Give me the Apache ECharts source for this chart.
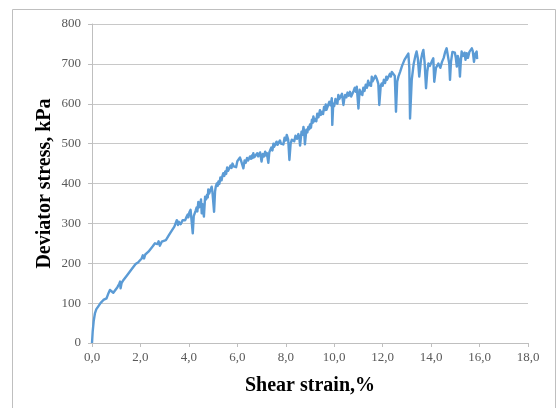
<!DOCTYPE html>
<html>
<head>
<meta charset="utf-8">
<script src="https://cdn.jsdelivr.net/npm/echarts@6/dist/echarts.min.js"></script>
<style>
html,body{margin:0;padding:0;background:#fff;}
#c{width:558px;height:408px;}
</style>
</head>
<body>
<div id="c"></div>
<script>
// [shear strain %, deviator stress kPa]
var curveLow = [
[0.00,0],[0.03,30],[0.07,55],[0.12,74],[0.18,85],[0.26,92],[0.35,100],[0.47,108],[0.55,106],[0.60,112],
[0.68,125],[0.74,133],[0.82,130],[0.88,126],[0.95,130],[1.05,140],[1.12,148],[1.16,154],[1.18,137],[1.22,150],
[1.30,158],[1.36,162],[1.45,170],[1.55,178],[1.65,186],[1.71,191],[1.80,198],[1.90,202],[1.98,204],[2.05,212],
[2.10,220],[2.15,212],[2.20,222],[2.33,229],[2.42,236],[2.50,242],[2.55,238],[2.60,250],[2.70,248],[2.75,255],
[2.80,244],[2.88,254],[2.95,250],[3.05,258],[3.15,268],[3.22,275],[3.30,280],[3.40,292]
];
var curveMid = [
[3.50,308],[3.55,296],[3.58,304],[3.62,305],[3.66,298],[3.70,300],[3.74,308],[3.77,313],[3.81,305],[3.85,308],
[3.90,316],[3.95,322],[3.98,315],[4.02,328],[4.07,334],[4.12,330],[4.16,275],[4.20,318],[4.25,321],[4.28,332],
[4.32,340],[4.35,330],[4.39,354],[4.42,340],[4.45,345],[4.48,352],[4.50,360],[4.53,325],[4.56,348],[4.58,350],
[4.62,317],[4.67,367],[4.71,360],[4.75,372],[4.78,365],[4.80,385],[4.84,375],[4.87,378],[4.90,386],[4.94,392],
[4.97,380],[5.00,385],[5.04,329],[5.08,380],[5.11,392],
[5.15,400],[5.19,394],[5.22,405],[5.26,399],[5.30,415],[5.35,408],[5.38,418],[5.42,426],[5.46,419],[5.50,430],
[5.54,424],[5.58,440],[5.62,432],[5.65,436],[5.69,428],[5.72,445],[5.76,439],[5.80,450],[5.85,443],[5.90,448],
[5.95,441],[6.00,456],[6.05,460],[6.08,452],[6.11,465],[6.15,458],[6.18,455],[6.22,462],[6.25,438],[6.30,458],
[6.35,452],[6.40,464],[6.45,458],[6.52,468],[6.56,462],[6.60,470],[6.63,464],[6.66,476],[6.70,466],[6.75,470],
[6.78,463],[6.82,476],[6.86,468],[6.90,472],[6.94,478],[7.00,455],[7.05,474],[7.10,468],[7.15,480],[7.19,470],
[7.22,476],[7.28,452],[7.32,478],[7.36,484],[7.40,490],[7.45,483],[7.49,500],[7.52,492],[7.55,495],[7.59,488],
[7.62,505],[7.66,497],[7.70,500],[7.73,494],[7.76,508],[7.80,500],[7.85,505],[7.90,498],[7.95,515],[8.00,508],
[8.04,522],[8.10,510],[8.15,459],[8.20,500],[8.25,510],[8.30,515],[8.35,506],[8.40,520],[8.46,512],[8.52,524],
[8.56,514],[8.59,495],[8.65,530],[8.69,522],[8.73,542],[8.76,530],[8.79,498],[8.85,535],[8.89,528],[8.93,542],
[8.97,536],[9.00,548],[9.04,540],[9.08,560],[9.11,552],[9.14,568],[9.18,556],[9.22,562],[9.26,556],[9.30,575],
[9.35,566],[9.41,584],[9.45,572],[9.50,580],[9.54,574],[9.58,592],[9.62,584],[9.65,598],[9.68,585],[9.72,590],
[9.76,584],[9.80,605],[9.85,596],[9.90,614],[9.92,547],[9.96,600],[10.00,594],[10.05,612],[10.10,608],[10.13,600],
[10.17,622],[10.21,612],[10.25,615],[10.28,608],[10.32,625],[10.38,597],[10.42,614],[10.45,622],[10.50,616],[10.55,628],
[10.60,620],[10.65,630],[10.70,618],[10.75,625],[10.80,632],[10.85,640],[10.89,630],[10.93,643],[11.00,588],[11.05,635],
[11.09,624],[11.12,630],[11.16,622],[11.20,640],[11.25,632],[11.30,648],[11.35,640],[11.40,658],[11.44,646],[11.48,652],
[11.52,645],[11.55,668],[11.58,656],[11.62,660],[11.66,652],[11.70,670],[11.75,664],[11.79,656],[11.82,650],[11.86,597],
[11.92,645],[11.96,651],[12.00,645],[12.05,660],[12.10,652],[12.15,668],[12.18,660],[12.22,662],[12.26,656],[12.30,675],
[12.34,668],[12.38,680],[12.44,685]
];
var curveHigh = [
[12.50,670],[12.55,580],[12.60,655],[12.65,668],[12.72,680],[12.80,695],[12.90,710],[13.00,720],[13.06,726],[13.10,690],
[13.13,563],[13.20,660],[13.28,700],[13.35,720],[13.40,731],[13.45,715],[13.51,668],[13.58,710],[13.63,725],[13.68,735],
[13.73,705],[13.79,639],[13.84,680],[13.89,701],[13.95,695],[14.02,705],[14.09,714],[14.13,655],[14.20,690],[14.30,701],
[14.38,690],[14.45,705],[14.52,715],[14.58,730],[14.64,739],[14.70,735],[14.75,700],[14.78,660],[14.82,705],[14.88,730],
[14.92,735],[14.98,728],[15.02,715],[15.06,693],[15.10,720],[15.15,710],[15.19,668],[15.22,700],[15.26,731],[15.32,720],
[15.38,728],[15.42,710],[15.47,727],[15.52,715],[15.58,730],[15.63,725],[15.68,739],[15.72,732],[15.77,705],[15.82,725],
[15.88,731],[15.90,712]
];
var xTicks = [0,2,4,6,8,10,12,14,16,18];
var yTicks = [0,100,200,300,400,500,600,700,800];

var pts = curveLow.concat(curveMid, curveHigh);
var chart = echarts.init(document.getElementById('c'), null, {renderer:'canvas'});
var serif = '"Liberation Serif","Times New Roman",serif';
chart.setOption({
  animation:false,
  backgroundColor:'#fff',
  grid:{left:92,right:30,top:24,bottom:65},
  xAxis:{
    type:'value',min:xTicks[0],max:xTicks[xTicks.length-1],interval:2,
    axisLine:{show:true,lineStyle:{color:'#bfbfbf',width:1}},
    axisTick:{show:true,length:4,lineStyle:{color:'#bfbfbf'}},
    splitLine:{show:false},
    axisLabel:{margin:8,color:'#595959',fontFamily:serif,fontSize:13,
      formatter:function(v){return v.toFixed(1).replace('.',',');}}
  },
  yAxis:{
    type:'value',min:yTicks[0],max:yTicks[yTicks.length-1],interval:100,
    axisLine:{show:true,lineStyle:{color:'#bfbfbf',width:1}},
    axisTick:{show:true,length:4,lineStyle:{color:'#bfbfbf'}},
    splitLine:{show:true,lineStyle:{color:'#c8c8c8',width:1}},
    axisLabel:{margin:11,color:'#595959',fontFamily:serif,fontSize:13}
  },
  graphic:[
    {type:'rect',silent:true,z:-1,shape:{x:12.5,y:9.5,width:543,height:420},
      style:{fill:'none',stroke:'#bfbfbf',lineWidth:1}},
    {type:'text',x:310,y:386,style:{text:'Shear strain,%',font:'bold 20px '+serif,fill:'#000',textAlign:'center',textVerticalAlign:'middle'}},
    {type:'text',x:45,y:183.5,rotation:Math.PI/2,style:{text:'Deviator stress, kPa',font:'bold 20px '+serif,fill:'#000',textAlign:'center',textVerticalAlign:'middle'}}
  ],
  series:[{
    type:'line',data:pts,showSymbol:false,symbol:'none',smooth:false,
    lineStyle:{color:'#5b9bd5',width:2.4,join:'round'},
    itemStyle:{color:'#5b9bd5'}
  }]
});
</script>
</body>
</html>
